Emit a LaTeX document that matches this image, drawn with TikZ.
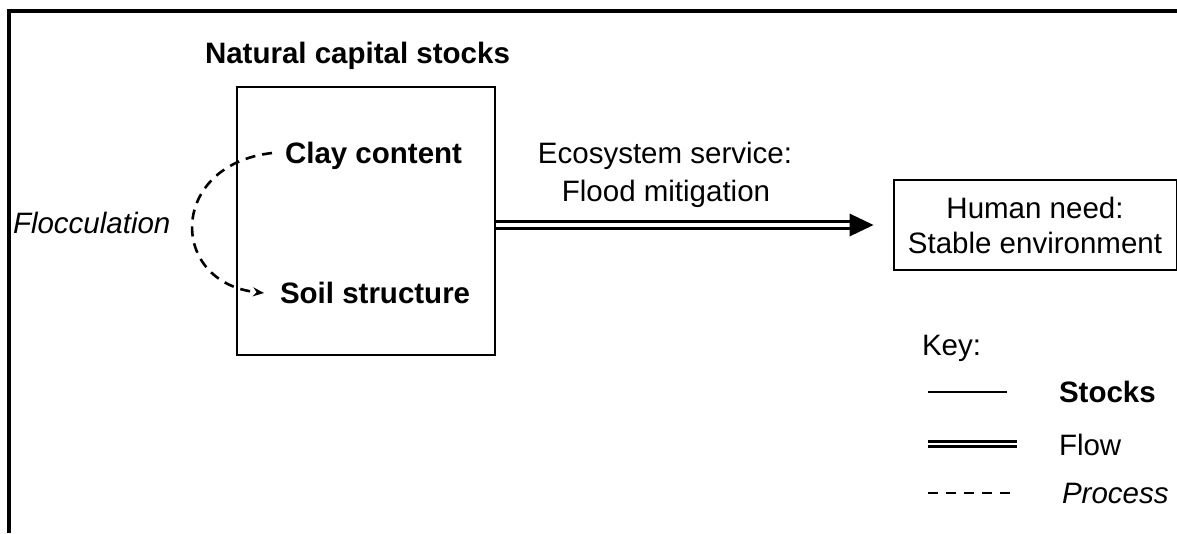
\documentclass[tikz,border=0pt]{standalone}
\usepackage{fontspec}
\setmainfont{Liberation Sans}
\usetikzlibrary{calc,arrows.meta}
\begin{document}
\begin{tikzpicture}[x=1pt,y=-1pt,
  txt/.style={inner sep=0pt,outer sep=0pt,font=\fontsize{29.5}{35}\selectfont},
  boldtxt/.style={txt,font=\fontsize{29.5}{35}\selectfont\bfseries},
  itxt/.style={txt,font=\fontsize{29.5}{35}\selectfont\itshape},
  stockline/.style={draw,line width=2.2pt},
  flowline/.style={double,double distance=3.4pt,line width=3pt},
  processline/.style={line width=2.6pt,dash pattern=on 10pt off 7pt}]
\useasboundingbox (0,0) rectangle (1177,533);
% outer frame (top and left edges visible)
\draw[line width=3.2pt] (9,533) -- (9,11) -- (1177,11);
% title
\node[boldtxt,anchor=base west] (title) at (205,63) {Natural capital stocks};
% stocks box
\node[stockline,minimum width=258pt,minimum height=268pt,inner sep=0pt] (stocks) at (366,221) {};
\node[boldtxt,anchor=base west] (clay) at (285,163) {Clay content};
\node[boldtxt,anchor=base west] (soil) at (280,303) {Soil structure};
% process arc
\coordinate (pstart) at (272,153);
\coordinate (pend) at (264,293);
\draw[processline,-{Stealth[length=11pt,width=9pt]}] (pstart) .. controls (168,165) and (168,283) .. (pend);
\node[itxt,anchor=base west] (floc) at (13,233) {Flocculation};
% human need box
\node[stockline,line width=2pt,minimum width=283pt,minimum height=90pt,inner sep=0pt,align=center,txt] (need) at (1035,225) {Human need:\\Stable environment};
% flow arrow
\coordinate (tip) at ($(need.west)+(-20,0)$);
\draw[flowline] (stocks.east |- need.west) -- ($(tip)+(-22,0)$);
\fill (tip) -- ++(-24,11.5) -- ++(0,-23) -- cycle;
\node[txt,anchor=base] (eco) at (665,163) {Ecosystem service:};
\node[txt,anchor=base] (flood) at (666,201) {Flood mitigation};
% key
\node[txt,anchor=base west] (key) at (922,355) {Key:};
\draw[line width=1.8pt] (928,392) -- (1007,392);
\node[boldtxt,anchor=base west] (kstocks) at (1059,402) {Stocks};
\draw[flowline,line width=2.6pt,double distance=2.6pt] (928,444) -- (1017,444);
\node[txt,anchor=base west] (kflow) at (1059,455) {Flow};
\draw[line width=2.6pt,dash pattern=on 10pt off 8pt] (928,493) -- (1013,493);
\node[itxt,anchor=base west] (kproc) at (1062,503) {Process};
\end{tikzpicture}
\end{document}
